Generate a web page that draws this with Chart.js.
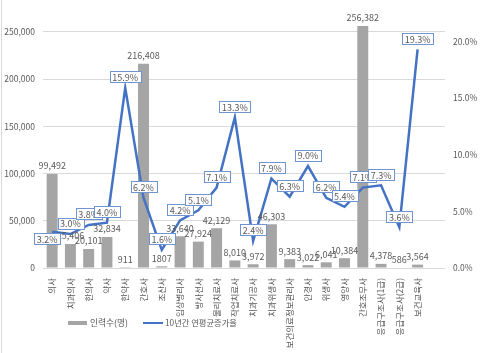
<!DOCTYPE html>
<html>
<head>
<meta charset="utf-8">
<script src="https://cdn.jsdelivr.net/npm/chart.js@4/dist/chart.umd.min.js"></script>
<style>
  html, body { margin: 0; padding: 0; background: #fff; }
  #wrap { width: 480px; height: 353px; position: relative; }
</style>
</head>
<body>
<div id="wrap"><canvas id="c" width="480" height="353"></canvas></div>
<script>
// 보건의료인력 직종별 인력수와 10년간 연평균증가율
const categories = [
  "의사", "치과의사", "한의사", "약사", "한약사", "간호사", "조산사",
  "임상병리사", "방사선사", "물리치료사", "작업치료사", "치과기공사", "치과위생사",
  "보건의료정보관리사", "안경사", "위생사", "영양사", "간호조무사",
  "응급구조사(1급)", "응급구조사(2급)", "보건교육사", ""
];
const workers = [
  99492, 25406, 20101, 32834, 911, 216408, 1807,
  33640, 27924, 42129, 8010, 3972, 46303,
  9383, 3022, 6041, 10384, 256382,
  4378, 586, 3564, null
];
const growthRate = [
  3.2, 3.0, 3.8, 4.0, 15.9, 6.2, 1.6,
  4.2, 5.1, 7.1, 13.3, 2.4, 7.9,
  6.3, 9.0, 6.2, 5.4, 7.1,
  7.3, 3.6, 19.3, null
];
const leftTicks = [0, 50000, 100000, 150000, 200000, 250000];
const rightTicks = [0, 5, 10, 15, 20];

const FONT = '"Noto Sans CJK KR", "Noto Sans", sans-serif';
const GRAY_TXT = "#595959";
const BAR_COLOR = "#a5a5a5";
const LINE_COLOR = "#4472c4";

// 범례 글자를 정해진 폭에 맞춘다
function fitFont(ctx, txt, width, maxSize) {
  ctx.font = "10px " + FONT;
  const s = Math.min(maxSize, 10 * width / ctx.measureText(txt).width);
  ctx.font = s.toFixed(2) + "px " + FONT;
}

const labelsPlugin = {
  id: "valueLabels",
  afterDatasetsDraw(chart) {
    const ctx = chart.ctx;
    ctx.save();
    ctx.font = "9px " + FONT;
    ctx.textAlign = "center";
    ctx.textBaseline = "middle";
    // bar values
    const barMeta = chart.getDatasetMeta(0);
    barMeta.data.forEach((el, i) => {
      const v = workers[i];
      if (v == null) return;
      ctx.fillStyle = GRAY_TXT;
      const txt = v === 1807 ? "1807" : v.toLocaleString("en-US");
      ctx.fillText(txt, el.x, el.y - 8);
    });
    // line values in boxes
    const lineMeta = chart.getDatasetMeta(1);
    lineMeta.data.forEach((el, i) => {
      const v = growthRate[i];
      if (v == null) return;
      const txt = v.toFixed(1) + "%";
      let x = el.x, y = el.y - 11;
      if (i === 0) { x = el.x - 5; y = el.y + 7; }
      const w = ctx.measureText(txt).width + 5;
      const h = 11;
      ctx.fillStyle = "#fff";
      ctx.fillRect(Math.round(x - w / 2) + 0.5, Math.round(y - h / 2) + 0.5, Math.round(w), h);
      ctx.strokeStyle = "#6f94d2";
      ctx.lineWidth = 1;
      ctx.strokeRect(Math.round(x - w / 2) + 0.5, Math.round(y - h / 2) + 0.5, Math.round(w), h);
      ctx.fillStyle = GRAY_TXT;
      ctx.fillText(txt, x, y + 1);
    });
    ctx.restore();
  },
  afterDraw(chart) {
    const ctx = chart.ctx;
    ctx.save();
    // chart border (left edge)
    ctx.strokeStyle = "#d9d9d9";
    ctx.lineWidth = 1;
    ctx.beginPath();
    ctx.moveTo(1.5, 0);
    ctx.lineTo(1.5, 353);
    ctx.stroke();
    // legend
    ctx.textBaseline = "middle";
    ctx.textAlign = "left";
    const ly = 323;
    ctx.fillStyle = BAR_COLOR;
    ctx.fillRect(68, ly - 2, 19, 4);
    ctx.fillStyle = GRAY_TXT;
    fitFont(ctx, chart.data.datasets[0].label, 38, 9.5);
    ctx.fillText(chart.data.datasets[0].label, 90, ly);
    ctx.strokeStyle = LINE_COLOR;
    ctx.lineWidth = 2;
    ctx.beginPath();
    ctx.moveTo(143, ly);
    ctx.lineTo(163, ly);
    ctx.stroke();
    fitFont(ctx, chart.data.datasets[1].label, 72, 9.5);
    ctx.fillText(chart.data.datasets[1].label, 165, ly);
    ctx.restore();
  }
};

new Chart(document.getElementById("c"), {
  type: "bar",
  data: {
    labels: categories,
    datasets: [
      {
        type: "bar",
        label: "인력수(명)",
        data: workers,
        backgroundColor: BAR_COLOR,
        yAxisID: "y",
        categoryPercentage: 1,
        barPercentage: 0.6,
        order: 2
      },
      {
        type: "line",
        label: "10년간 연평균증가율",
        data: growthRate,
        borderColor: LINE_COLOR,
        backgroundColor: LINE_COLOR,
        borderWidth: 2.5,
        pointRadius: 0,
        tension: 0,
        yAxisID: "y1",
        order: 1
      }
    ]
  },
  options: {
    responsive: false,
    animation: false,
    layout: { padding: { top: 11, left: 0, right: 0, bottom: 0 } },
    plugins: {
      legend: { display: false },
      tooltip: { enabled: false }
    },
    scales: {
      x: {
        grid: { display: false },
        border: { display: false },
        ticks: {
          color: GRAY_TXT,
          font: { family: FONT, size: 8.5 },
          minRotation: 90,
          maxRotation: 90,
          autoSkip: false,
          padding: 2
        },
        afterFit(scale) { scale.height = 85; }
      },
      y: {
        position: "left",
        min: 0,
        max: 270000,
        border: { display: false },
        grid: { color: "#d9d9d9", drawTicks: false, lineWidth: 1 },
        ticks: {
          color: GRAY_TXT,
          font: { family: FONT, size: 8.5 },
          padding: 8,
          callback: v => v.toLocaleString("en-US")
        },
        afterBuildTicks(scale) { scale.ticks = leftTicks.map(v => ({ value: v })); },
        afterFit(scale) { scale.width = 43; }
      },
      y1: {
        position: "right",
        min: 0,
        max: 22.5,
        border: { display: false },
        grid: { display: false, drawTicks: false },
        ticks: {
          color: GRAY_TXT,
          font: { family: FONT, size: 8.5 },
          padding: 8,
          callback: v => v.toFixed(1) + "%"
        },
        afterBuildTicks(scale) { scale.ticks = rightTicks.map(v => ({ value: v })); },
        afterFit(scale) { scale.width = 35; }
      }
    }
  },
  plugins: [labelsPlugin]
});
</script>
</body>
</html>
